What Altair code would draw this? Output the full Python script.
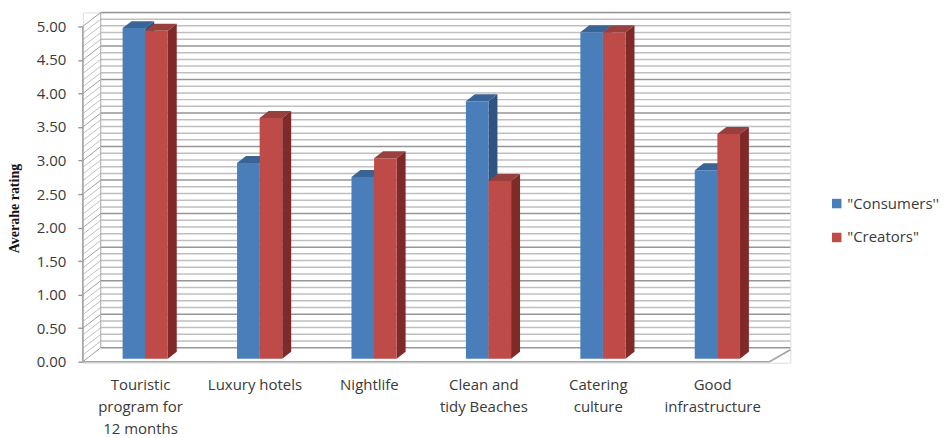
import altair as alt
import pandas as pd

categories = ["Touristic|program for|12 months", "Luxury hotels", "Nightlife",
              "Clean and|tidy Beaches", "Catering|culture", "Good|infrastructure"]
consumers = [4.93, 2.92, 2.71, 3.84, 4.87, 2.81]
creators = [4.89, 3.59, 2.99, 2.65, 4.87, 3.35]
series_names = ['"Consumers\'\'', '"Creators"']
front_colors = ["#4a7ebb", "#be4b48"]
top_colors = ["#3a6496", "#98403d"]
side_colors = ["#2f5480", "#7f2a28"]

# 3-D look, in data units
WALL_DX, WALL_DY = 18 / 115, 14 / 67.2
BAR_DX, BAR_DY = 9 / 115, 7 / 67.2
BAR_W = 22.7 / 115
BASE = 3 / 67.2
GROUP_CENTER = 0.545
N = len(categories)
X_MAX = N + WALL_DX + 3 / 115
Y_MIN, Y_MAX = -1 / 67.2, 5 + WALL_DY

x_scale = alt.Scale(domain=[0, X_MAX], nice=False, zero=False)
y_scale = alt.Scale(domain=[Y_MIN, Y_MAX], nice=False, zero=False)
X = lambda f="x0", **k: alt.X(f"{f}:Q", scale=x_scale, **k)
Y = lambda f="y0", **k: alt.Y(f"{f}:Q", scale=y_scale, **k)

levels = [i / 10 for i in range(51)]
majors = [v for v in levels if round(v * 10) % 5 == 0]
minors = [v for v in levels if round(v * 10) % 5 != 0]


def rules(rows, color, width):
    df = pd.DataFrame(rows, columns=["x0", "x1", "y0", "y1"])
    return alt.Chart(df).mark_rule(color=color, strokeWidth=width).encode(
        x=X("x0"), x2="x1:Q", y=Y("y0"), y2="y1:Q")


back = lambda vals: [(WALL_DX, X_MAX, v + WALL_DY, v + WALL_DY) for v in vals]
wall = lambda vals: [(0, WALL_DX, v, v + WALL_DY) for v in vals]

# axes: real tick labels, nothing else
axis_df = pd.DataFrame({"x0": [0.0, 6.0], "y0": [0.0, 5.0]})
layers = [
    alt.Chart(axis_df).mark_point(opacity=0).encode(
        x=X("x0", axis=alt.Axis(
            values=[i + 0.5 for i in range(N)], title=None, grid=False, domain=False, ticks=False,
            labelExpr="split(" + str(categories) + "[floor(datum.value)], '|')",
            labelFontSize=15, labelFont="Open Sans", labelColor="#3a3a3a", labelAngle=0,
            labelPadding=15, labelLineHeight=22, labelOverlap=False, labelFlush=False)),
        y=Y("y0", axis=alt.Axis(
            tickCount=11, format=".2f", title="Averahe rating", grid=False, domain=False,
            tickSize=5, tickColor="#999999", tickWidth=1.4, labelPadding=12, labelOverlap=False,
            labelFontSize=15, labelFont="Open Sans", labelColor="#3a3a3a",
            titleFont="Liberation Serif", titleFontSize=14, titleFontWeight="bold",
            titleColor="#111111", titleX=-61, titleY=196)),
    ),
    rules(back(minors), "#bfbfbf", 1.5),
    rules(back(majors), "#969696", 1.5),
    rules(wall(minors), "#c0c0c0", 1),
    rules(wall(majors), "#a0a0a0", 1),
    rules([(WALL_DX, WALL_DX, 0 + WALL_DY, 5 + WALL_DY)], "#a8a8a8", 1),
    rules([(0, 6, 0, 0), (6, X_MAX, 0, WALL_DY - 2 / 67.2)], "#a4a4a4", 1.6),
    rules([(0, 0, 0, 5)], "#a4a4a4", 1.6),
]

for s, (name, vals) in enumerate(zip(series_names, [consumers, creators])):
    front, top, side = [], [], []
    for i, v in enumerate(vals):
        left = i + GROUP_CENTER + (s - 1) * BAR_W
        right = left + BAR_W
        hi = v + BASE
        front.append({"series": name, "x0": left, "x1": right, "y0": BASE, "y1": hi})
        top.append({"g": i, "y0": hi, "x0": left, "x1": right})
        top.append({"g": i, "y0": hi + BAR_DY, "x0": left + BAR_DX, "x1": right + BAR_DX})
        side.append({"g": i, "x0": right, "y0": BASE, "y1": hi})
        side.append({"g": i, "x0": right + BAR_DX, "y0": BASE + BAR_DY, "y1": hi + BAR_DY})
    layers.append(alt.Chart(pd.DataFrame(top)).mark_area(orient="horizontal", color=top_colors[s]).encode(
        y=Y("y0"), x=X("x0"), x2="x1:Q", detail="g:N"))
    layers.append(alt.Chart(pd.DataFrame(side)).mark_area(color=side_colors[s]).encode(
        x=X("x0"), y=Y("y0"), y2="y1:Q", detail="g:N"))
    layers.append(alt.Chart(pd.DataFrame(front)).mark_rect().encode(
        x=X("x0"), x2="x1:Q", y=Y("y0"), y2="y1:Q",
        color=alt.Color("series:N", scale=alt.Scale(domain=series_names, range=front_colors),
                        legend=alt.Legend(orient="none", legendX=748, legendY=184, title=None,
                                          symbolType="square", symbolSize=90, symbolStrokeWidth=0,
                                          labelFont="Open Sans", labelFontSize=15,
                                          labelColor="#3a3a3a", rowPadding=18, labelOffset=3))))

chart = alt.layer(*layers).properties(
    width=709, height=351,
    padding={"left": 0, "top": 3, "right": 0, "bottom": 0},
).configure_view(stroke=None).configure(background="white")

chart.save("out.html", embed_options={"renderer": "svg", "actions": False})
